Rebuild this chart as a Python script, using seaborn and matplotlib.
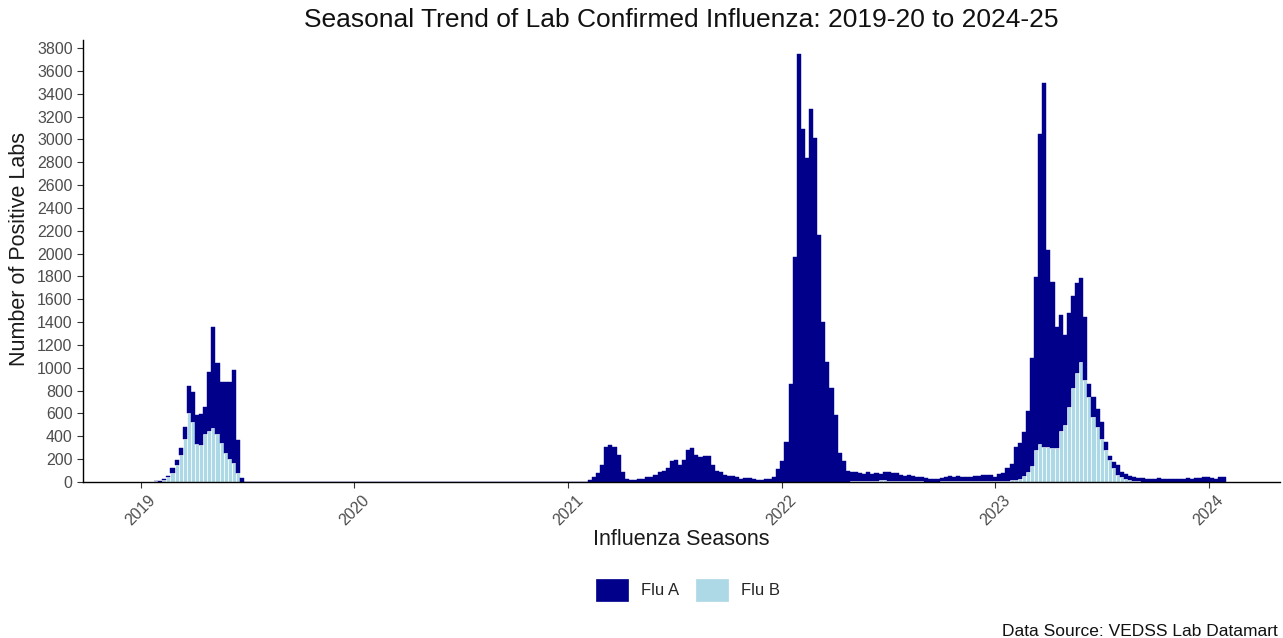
import numpy as np
import pandas as pd
import matplotlib
matplotlib.use("Agg")
import matplotlib.pyplot as plt
import matplotlib.dates as mdates
import seaborn as sns

# ---------------- data (weekly counts) ----------------
start_2019 = "2019-01-27"
flu_a_2019 = [5, 2, 10, 10, 40, 40, 65, 105, 240, 265, 255, 275, 240, 515, 885,
              620, 535, 625, 675, 815, 290, 35]
flu_b_2019 = [5, 3, 15, 45, 80, 150, 235, 375, 600, 525, 330, 320, 420, 450, 475,
              420, 340, 250, 200, 165, 80, 0]

start_2021 = "2021-02-07"
flu_a_2021 = [20, 45, 75, 150, 310, 325, 310, 235, 90, 30, 15, 15, 25, 30, 40, 45,
              60, 90, 100, 120, 180, 190, 150, 195, 280, 295, 240, 215, 225, 225,
              150, 100, 90, 65, 50, 50, 45, 25, 35, 35, 25, 20, 20, 25, 30, 45,
              110, 180, 350, 860, 1970, 3750]

start_2022 = "2022-02-06"
flu_a_2022 = [3095, 2840, 3270, 3015, 2165, 1405, 1050, 825, 585, 250, 180, 100,
              80, 73, 75, 65, 80, 62, 65, 55, 75, 80, 70, 65, 57, 47, 52, 45, 40,
              35, 32, 27, 27, 27, 30, 35, 40, 37, 42, 40, 35, 40, 45, 45, 55, 55,
              60, 35, 65, 73, 115, 145]
flu_b_2022 = [0, 0, 0, 0, 0, 0, 0, 0, 0, 0, 0, 0,
              5, 12, 5, 5, 5, 8, 10, 15, 15, 10, 10, 10, 8, 8, 8, 5, 5, 5, 3, 3,
              3, 3, 5, 10, 10, 8, 8, 5, 5, 5, 5, 5, 5, 5, 5, 5, 5, 5, 10, 15]

start_2023 = "2023-02-05"
flu_a_2023 = [285, 310, 385, 535, 950, 1515, 2715, 3190, 1730, 1450, 1060, 1010,
              785, 820, 805, 790, 740, 555, 115, 175, 155, 145, 68, 42, 55, 90,
              50, 42, 37, 34, 30, 29, 25, 30, 28, 35, 30, 30, 28, 30, 28, 30, 35,
              30, 35, 35, 40, 45, 35, 30, 40, 40]
flu_b_2023 = [20, 30, 50, 85, 140, 280, 330, 305, 305, 300, 300, 450, 500, 660,
              820, 950, 1050, 890, 745, 570, 480, 380, 280, 190, 120, 60, 40, 25,
              15, 10, 5, 3, 3, 0, 0, 0, 0, 0, 0, 0, 0, 0, 0, 0, 0, 0, 0, 0, 0, 0,
              0, 0]

year_ticks = ["2019", "2020", "2021", "2022", "2023", "2024"]
y_ticks = list(range(0, 3801, 200))
series_names = ["Flu A", "Flu B"]
colors = {"Flu A": "#00008B", "Flu B": "#ADD8E6"}

# ---------------- build long table ----------------
rows = []
def add(start, values, name):
    dates = pd.date_range(start, periods=len(values), freq="7D")
    for d, v in zip(dates, values):
        rows.append((float(mdates.date2num(d)), name, float(v)))

add(start_2019, flu_a_2019, "Flu A")
add(start_2019, flu_b_2019, "Flu B")
add(start_2021, flu_a_2021, "Flu A")
add(start_2022, flu_a_2022, "Flu A")
add(start_2022, flu_b_2022, "Flu B")
add(start_2023, flu_a_2023, "Flu A")
add(start_2023, flu_b_2023, "Flu B")
df = pd.DataFrame(rows, columns=["date", "type", "count"])

first = float(mdates.date2num(pd.Timestamp(start_2019)))
last = float(df["date"].max())

# ---------------- plot ----------------
sns.set_style("ticks")
plt.rcParams["font.family"] = ["Liberation Sans", "DejaVu Sans"]

fig = plt.figure(figsize=(12.83, 6.38), dpi=100)
ax = fig.add_axes([83 / 1283, 1 - 482 / 638, (1280 - 83) / 1283, (482 - 40) / 638])

sns.histplot(data=df, x="date", weights="count", hue="type", hue_order=series_names,
             multiple="stack", binwidth=7.0, binrange=(first - 3.5, last + 3.5),
             palette=colors, alpha=1, edgecolor="white", linewidth=0.5,
             ax=ax, legend=True)

# Flu A bars drawn solid (edge same as fill); Flu B keeps thin white separators
for p in ax.patches:
    fc = p.get_facecolor()
    if fc[0] < 0.2:
        p.set_edgecolor(fc)
        p.set_linewidth(0.3)

ax.set_xlim(mdates.date2num(pd.Timestamp("2018-09-24")),
            mdates.date2num(pd.Timestamp("2024-05-02")))
ax.set_ylim(0, 3870)
ax.set_yticks(y_ticks)
ax.set_yticklabels([str(v) for v in y_ticks])
ax.set_xticks([mdates.date2num(pd.Timestamp(f"{y}-01-01")) for y in year_ticks])
ax.set_xticklabels(year_ticks, rotation=45, ha="center", va="top")
ax.tick_params(axis="both", colors="#333333", labelcolor="#4D4D4D", labelsize=11.5,
               length=4, width=0.8)
for s in ["top", "right"]:
    ax.spines[s].set_visible(False)
for s in ["left", "bottom"]:
    ax.spines[s].set_color("black")
    ax.spines[s].set_linewidth(1.0)

ax.set_ylabel("Number of Positive Labs", fontsize=15.5, color="#1a1a1a")
ax.yaxis.set_label_coords(-0.0445, 0.527)
ax.set_xlabel("Influenza Seasons", fontsize=15.5, color="#1a1a1a")
ax.xaxis.set_label_coords(0.5, -0.107)

sns.move_legend(ax, "center", bbox_to_anchor=(688 / 1283, 1 - 590 / 638),
                bbox_transform=fig.transFigure, ncol=2, title=None, frameon=False,
                fontsize=12, handlelength=1.9, handleheight=1.7, columnspacing=1.0,
                handletextpad=0.8)
leg = ax.get_legend()
for h in leg.legend_handles:
    h.set_edgecolor(h.get_facecolor())

fig.text(681 / 1283, 1 - 20 / 638,
         "Seasonal Trend of Lab Confirmed Influenza: 2019-20 to 2024-25",
         ha="center", va="center", fontsize=19, color="#111111")
fig.text(1278 / 1283, 1 - 631 / 638, "Data Source: VEDSS Lab Datamart",
         ha="right", va="center", fontsize=12.5, color="#111111")

fig.savefig("out.png", dpi=100)
